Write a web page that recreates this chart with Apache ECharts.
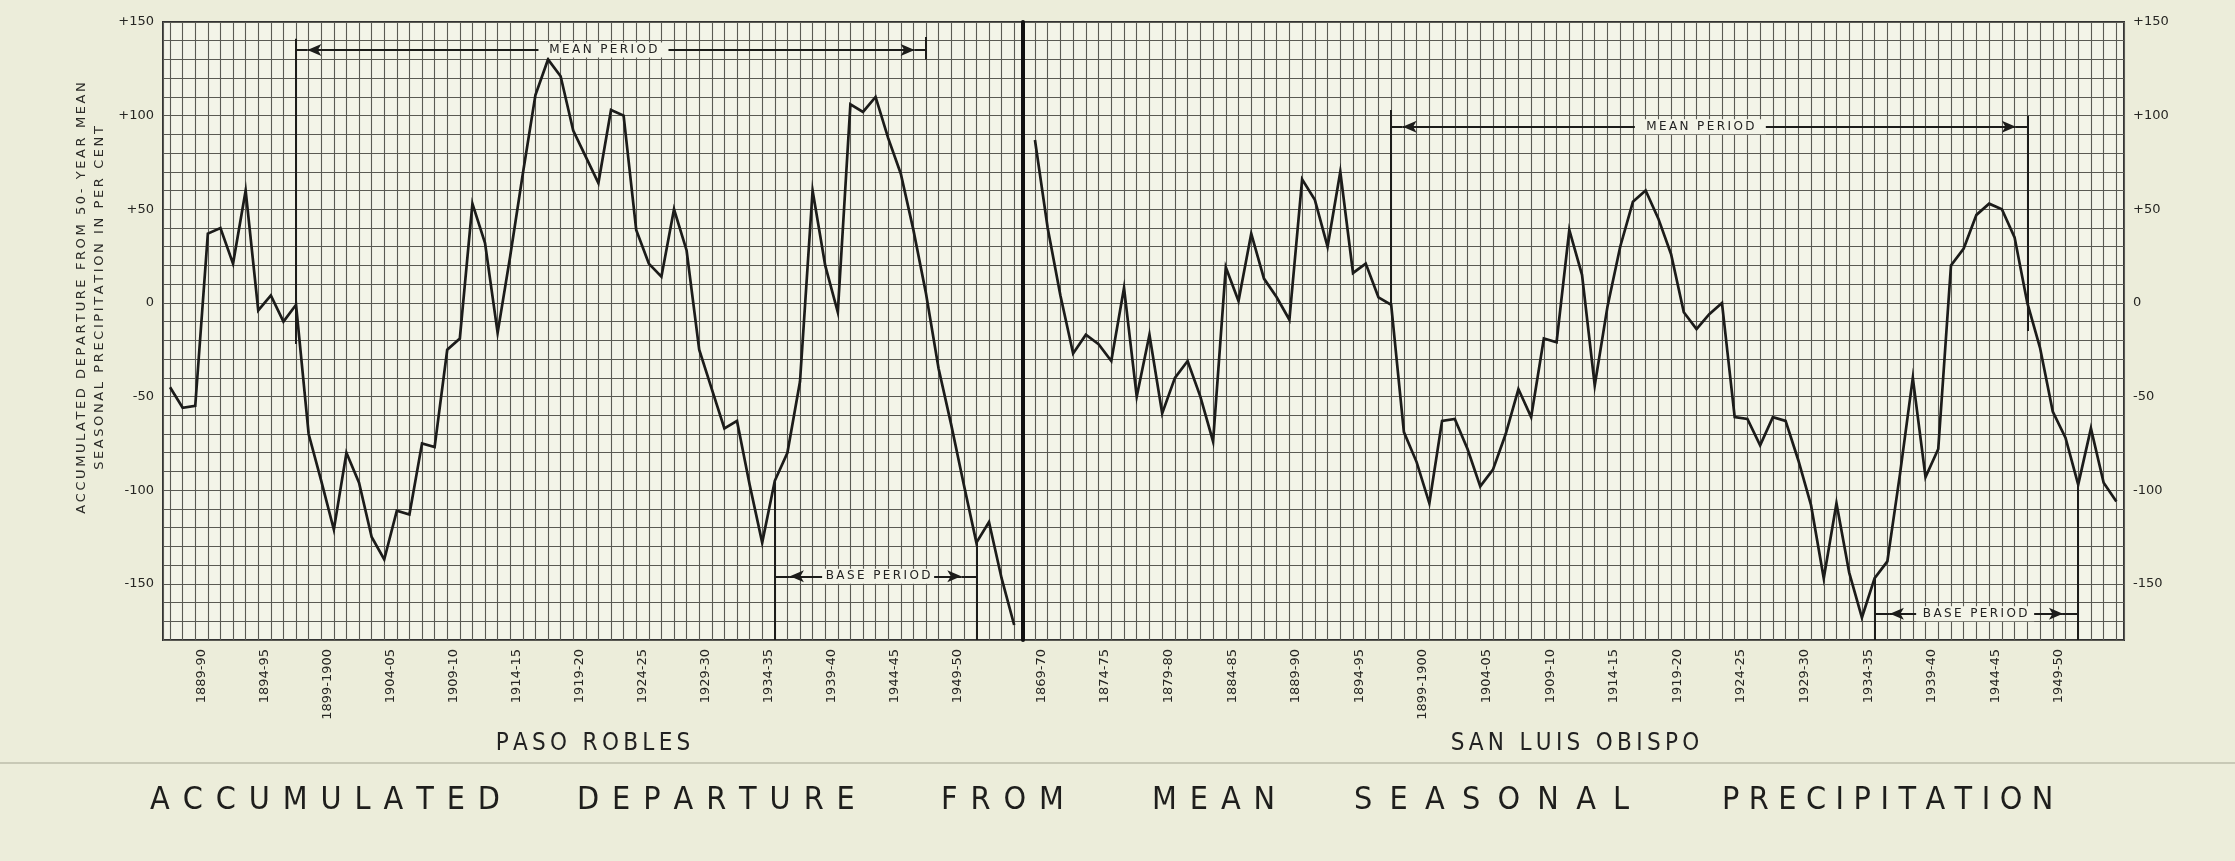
<!DOCTYPE html>
<html>
<head>
<meta charset="utf-8">
<title>Accumulated departure from mean seasonal precipitation</title>
<script src="https://cdn.jsdelivr.net/npm/echarts@6/dist/echarts.min.js"></script>
<style>
  html, body { margin: 0; padding: 0; background: #ecedda; }
  #chart { width: 2235px; height: 861px; }
</style>
</head>
<body>
<div id="chart"></div>
<script>
// accumulated departure (per cent) at the end of each season
// Paso Robles: first point = end of 1886-87
const PASO_FIRST = 1887;
const pasoValues = [
  -45, -56, -55, 37, 40, 21, 60, -4, 4, -10,
  -1, -70, -95, -121, -80, -96, -125, -137, -111, -113,
  -75, -77, -25, -19, 53, 32, -16, 25, 69, 111,
  130, 121, 92, 78, 64, 103, 100, 39, 21, 14,
  50, 28, -25, -46, -67, -63, -97, -128, -95, -80,
  -42, 60, 20, -5, 106, 102, 110, 88, 69, 39,
  5, -35, -65, -97, -128, -117, -147, -172
];

// San Luis Obispo: first point = end of 1868-69
const SLO_FIRST = 1869;
const sloValues = [
  87, 40, 4, -27, -17, -22, -31, 8, -50, -17,
  -59, -40, -31, -50, -74, 19, 1, 37, 13, 3,
  -9, 66, 55, 30, 70, 16, 21, 3, -1, -69,
  -85, -107, -63, -62, -78, -98, -89, -70, -46, -61,
  -19, -21, 39, 15, -44, -2, 30, 54, 60, 45,
  26, -5, -14, -6, 0, -61, -62, -76, -61, -63,
  -84, -108, -147, -107, -144, -168, -147, -138, -91, -40,
  -93, -78, 20, 29, 47, 53, 50, 35, 0, -24,
  -58, -72, -97, -67, -96, -106
];

const pasoSeasonLabels = ['1889-90', '1894-95', '1899-1900', '1904-05', '1909-10', '1914-15',
  '1919-20', '1924-25', '1929-30', '1934-35', '1939-40', '1944-45', '1949-50'];
const sloSeasonLabels = ['1869-70', '1874-75', '1879-80', '1884-85', '1889-90', '1894-95',
  '1899-1900', '1904-05', '1909-10', '1914-15', '1919-20', '1924-25', '1929-30', '1934-35',
  '1939-40', '1944-45', '1949-50'];

const yTickValues = [-150, -100, -50, 0, 50, 100, 150];
const yTickLabels = ['-150', '-100', '-50', '0', '+50', '+100', '+150'];

// periods marked on the sheet (season-end years)
const pasoMeanPeriod = [1897, 1947];
const pasoBasePeriod = [1935, 1951];
const sloMeanPeriod = [1897, 1947];
const sloBasePeriod = [1935, 1951];

const PAPER = '#f3f4e8';
const GRID_LINE = '#5a5a53';
const INK = '#1c1c1a';
const FONT = 'DejaVu Sans';
const COND = '"DejaVu Sans Condensed", "Liberation Sans Narrow", "DejaVu Sans", sans-serif';

const toPairs = (first, vals) => vals.map((v, i) => [first + i, v]);
const spaced = (s, sep) => s.split('').join(sep);

const seasonFormatter = labels => {
  const byStart = {};
  labels.forEach(l => { byStart[parseInt(l, 10)] = l; });
  return v => byStart[Math.round(v * 1000) / 1000] || '';
};
const yFormatter = v => {
  const i = yTickValues.indexOf(v);
  return i < 0 ? '' : yTickLabels[i];
};

// x ranges in season-end years, read from the sheet
const PASO_X = [1886.44, 1954.7];
const SLO_X = [1868.06, 1954.6];

function dataAxis(gridIndex, range) {
  return {
    gridIndex, type: 'value', min: range[0], max: range[1],
    splitNumber: 70, minInterval: 1, maxInterval: 1,
    axisLine: { show: false }, axisTick: { show: false }, axisLabel: { show: false },
    splitLine: { show: true, lineStyle: { color: GRID_LINE, width: 1.1 } }
  };
}
function seasonAxis(gridIndex, range, labels) {
  // same scale shifted half a season so ticks sit in the middle of each season column
  return {
    gridIndex, type: 'value', position: 'bottom', min: range[0] - 0.5, max: range[1] - 0.5,
    splitNumber: 70, minInterval: 1, maxInterval: 1,
    axisLine: { show: false }, axisTick: { show: false }, splitLine: { show: false },
    axisLabel: {
      show: true, rotate: 90, margin: 9, color: '#262623',
      fontFamily: FONT, fontSize: 13, formatter: seasonFormatter(labels)
    }
  };
}
function valueAxis(gridIndex, position, showSplit) {
  return {
    gridIndex, type: 'value', position, min: -180, max: 150, interval: 10,
    axisLine: { show: false }, axisTick: { show: false },
    axisLabel: { show: true, margin: 9, color: '#262623', fontFamily: FONT, fontSize: 13, formatter: yFormatter },
    splitLine: { show: showSplit, lineStyle: { color: GRID_LINE, width: 1.1 } }
  };
}

function periodMarks(p, level, vert0, vert1, inset) {
  const arrow = { symbol: 'arrow', symbolSize: [9, 14] };
  const mid = (p[0] + p[1]) / 2;
  return [
    [{ coord: [p[0], vert0[0]] }, { coord: [p[0], vert0[1]] }],
    [{ coord: [p[1], vert1[0]] }, { coord: [p[1], vert1[1]] }],
    [{ coord: [p[0], level] }, { coord: [p[0] + inset, level] }],
    [Object.assign({ coord: [p[0] + inset, level] }, arrow), { coord: [mid, level] }],
    [{ coord: [mid, level] }, Object.assign({ coord: [p[1] - inset, level] }, arrow)],
    [{ coord: [p[1] - inset, level] }, { coord: [p[1], level] }]
  ];
}

function lineSeries(xi, yi, data, marks) {
  return {
    type: 'line', xAxisIndex: xi, yAxisIndex: yi, data,
    showSymbol: false, symbol: 'none', animation: false, z: 5,
    lineStyle: { color: INK, width: 2.7, join: 'miter' },
    markLine: {
      silent: true, animation: false, symbol: ['none', 'none'],
      label: { show: false },
      lineStyle: { color: INK, width: 2, type: 'solid' },
      emphasis: { disabled: true },
      data: marks
    }
  };
}

function periodLabel(xi, yi, pos, text, w) {
  return {
    type: 'scatter', xAxisIndex: xi, yAxisIndex: yi, silent: true, animation: false, z: 8,
    symbol: 'rect', symbolSize: [w, 15],
    itemStyle: { color: PAPER, opacity: 1 },
    label: {
      show: true, position: 'inside', formatter: spaced(text, '\u2009'),
      color: '#222', fontFamily: FONT, fontSize: 12
    },
    data: [pos]
  };
}

// title words: left edge and letter gap as on the sheet
const titleWords = [
  ['ACCUMULATED', 150, '\u2009\u2005'],
  ['DEPARTURE', 577, '\u2009\u2005'],
  ['FROM', 941, '\u2009\u2005'],
  ['MEAN', 1152, '\u2009\u2005'],
  ['SEASONAL', 1354, '\u2002\u200A'],
  ['PRECIPITATION', 1722, '\u2004']
];

const chart = echarts.init(document.getElementById('chart'), null, { renderer: 'canvas' });

chart.setOption({
  backgroundColor: '#ecedda',
  animation: false,
  grid: [
    { left: 163, top: 22, width: 860, height: 618, show: true, backgroundColor: PAPER, borderColor: '#333', borderWidth: 2 },
    { left: 1023, top: 22, width: 1101, height: 618, show: true, backgroundColor: PAPER, borderColor: '#333', borderWidth: 2 }
  ],
  xAxis: [
    dataAxis(0, PASO_X),
    seasonAxis(0, PASO_X, pasoSeasonLabels),
    dataAxis(1, SLO_X),
    seasonAxis(1, SLO_X, sloSeasonLabels)
  ],
  yAxis: [
    valueAxis(0, 'left', true),
    valueAxis(1, 'right', true),
    {
      gridIndex: 1, type: 'value', position: 'left', min: -180, max: 150, interval: 10,
      axisLine: { show: true, lineStyle: { color: '#111', width: 4 } },
      axisTick: { show: false }, axisLabel: { show: false }, splitLine: { show: false }
    }
  ],
  series: [
    lineSeries(0, 0, toPairs(PASO_FIRST, pasoValues),
      periodMarks(pasoMeanPeriod, 135, [141, -22], [142, 130], 0.9)
        .concat(periodMarks(pasoBasePeriod, -146, [-95, -180], [-128, -180], 1.2))),
    lineSeries(2, 1, toPairs(SLO_FIRST, sloValues),
      periodMarks(sloMeanPeriod, 94, [103, -1], [100, -15], 0.9)
        .concat(periodMarks(sloBasePeriod, -166, [-147, -180], [-97, -180], 1.2))),
    periodLabel(0, 0, [1921.4, 135], 'MEAN PERIOD', 130),
    periodLabel(0, 0, [1943.2, -146], 'BASE PERIOD', 112),
    periodLabel(2, 1, [1921.3, 94], 'MEAN PERIOD', 131),
    periodLabel(2, 1, [1942.9, -166], 'BASE PERIOD', 118)
  ],
  graphic: [
    {
      type: 'text', x: 91, y: 298, rotation: Math.PI / 2,
      style: {
        text: spaced('ACCUMULATED DEPARTURE FROM 50- YEAR MEAN', '\u2009') + '\n' +
              spaced('SEASONAL PRECIPITATION IN PER CENT', '\u2009'),
        fill: '#2b2b28', font: '13px ' + FONT, align: 'center', verticalAlign: 'middle', lineHeight: 18
      }
    },
    {
      type: 'text', x: 593, y: 744,
      style: { text: spaced('PASO ROBLES', '\u2009'), fill: '#222', font: '24px ' + COND, align: 'center', verticalAlign: 'middle' }
    },
    {
      type: 'text', x: 1575, y: 744,
      style: { text: spaced('SAN LUIS OBISPO', '\u2009'), fill: '#222', font: '24px ' + COND, align: 'center', verticalAlign: 'middle' }
    },
    {
      type: 'line', shape: { x1: 0, y1: 763, x2: 2235, y2: 763 },
      style: { stroke: '#c8c9b6', lineWidth: 2 }
    },
    ...titleWords.map(([word, x, gap]) => ({
      type: 'text', x, y: 801,
      style: { text: spaced(word, gap), fill: '#1e1e1c', font: '32px ' + COND, align: 'left', verticalAlign: 'middle' }
    }))
  ]
});
</script>
</body>
</html>
